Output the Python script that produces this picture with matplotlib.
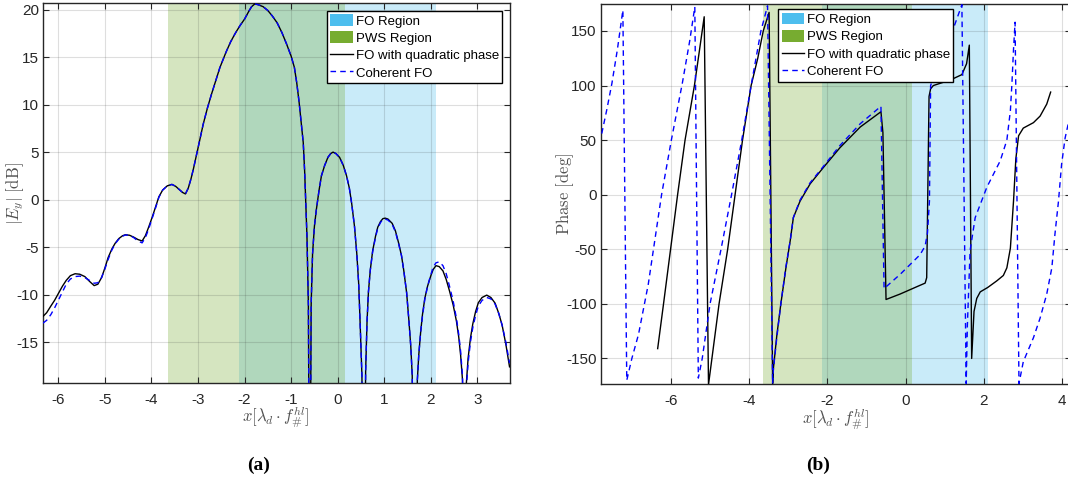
import matplotlib
matplotlib.use("Agg")
import matplotlib.pyplot as plt
from matplotlib.patches import Patch
from matplotlib.lines import Line2D

plt.rcParams["font.family"] = ["Liberation Sans", "DejaVu Sans"]
plt.rcParams["mathtext.fontset"] = "cm"
plt.rcParams["axes.unicode_minus"] = False

# ---- data -------------------------------------------------------------
fo_region = [-2.13, 2.12]
pws_region = [-3.65, 0.16]

mag_x = [-6.33, -6.25, -6.16, -6.08, -6.00, -5.91, -5.83, -5.74, -5.64, -5.54,
         -5.43, -5.33, -5.23, -5.15, -5.07, -5.00, -4.93, -4.85, -4.78, -4.70,
         -4.62, -4.56, -4.47, -4.38, -4.29, -4.20, -4.13, -4.06, -3.98, -3.90,
         -3.84, -3.76, -3.66, -3.56, -3.48, -3.40, -3.33, -3.27, -3.21, -3.15,
         -3.10, -3.05, -2.97, -2.89, -2.80, -2.71, -2.62, -2.53, -2.40, -2.30,
         -2.20, -2.10, -2.00, -1.90, -1.85, -1.78, -1.70, -1.60, -1.50, -1.40,
         -1.30, -1.20, -1.10, -1.00, -0.93, -0.88, -0.83, -0.78, -0.74, -0.71,
         -0.68, -0.66, -0.63, -0.60, -0.57, -0.54, -0.50, -0.46, -0.40, -0.35,
         -0.28, -0.21, -0.15, -0.10, -0.04, 0.04, 0.12, 0.19, 0.25, 0.30,
         0.36, 0.41, 0.45, 0.48, 0.52, 0.56, 0.60, 0.63, 0.66, 0.70,
         0.75, 0.81, 0.86, 0.92, 0.97, 1.02, 1.08, 1.17, 1.24, 1.31,
         1.37, 1.42, 1.48, 1.53, 1.57, 1.60, 1.66, 1.71, 1.74, 1.78,
         1.82, 1.87, 1.93, 2.00, 2.05, 2.11, 2.18, 2.26, 2.33, 2.40,
         2.48, 2.55, 2.60, 2.64, 2.68, 2.72, 2.76, 2.80, 2.85, 2.90,
         2.96, 3.02, 3.10, 3.20, 3.29, 3.38, 3.46, 3.53, 3.61, 3.69]

mag_fo_quad = [-12.3, -11.9, -11.2, -10.6, -9.9, -9.1, -8.5, -8.0, -7.8, -7.85,
               -8.1, -8.6, -9.05, -8.9, -8.2, -7.2, -6.1, -5.2, -4.6, -4.1,
               -3.8, -3.7, -3.75, -3.95, -4.2, -4.35, -3.8, -2.9, -1.8, -0.6,
               0.3, 1.0, 1.45, 1.6, 1.4, 1.05, 0.75, 0.6, 1.2, 2.2,
               3.2, 4.3, 6.1, 7.9, 9.6, 11.1, 12.5, 13.9, 15.5, 16.6,
               17.5, 18.3, 19.0, 19.9, 20.3, 20.6, 20.5, 20.3, 19.9, 19.3,
               18.6, 17.6, 16.4, 15.1, 13.9, 12.3, 10.3, 7.9, 6.0, 3.0,
               -1.2, -3.9, -11.0, -40.0, -11.0, -5.7, -2.8, -1.1, 1.0, 2.5,
               3.6, 4.45, 4.85, 5.0, 4.85, 4.45, 3.6, 2.5, 1.2, -0.4,
               -2.8, -5.7, -8.8, -12.8, -18.5, -40.0, -18.0, -12.8, -9.7, -7.4,
               -5.4, -3.9, -2.9, -2.3, -2.0, -1.95, -2.05, -2.5, -3.3, -4.6,
               -5.9, -7.5, -9.8, -12.8, -15.5, -18.5, -40.0, -19.0, -16.4, -14.0,
               -12.1, -10.4, -9.1, -8.0, -7.35, -6.95, -7.05, -7.5, -8.4, -9.6,
               -11.1, -12.8, -14.5, -16.4, -19.0, -40.0, -19.5, -16.7, -14.6, -13.1,
               -11.8, -10.85, -10.3, -10.05, -10.3, -10.9, -12.0, -13.2, -15.2, -17.6]

mag_coherent = [-13.0, -12.7, -12.1, -11.4, -10.6, -9.7, -8.9, -8.35, -8.1, -8.05,
                -8.2, -8.5, -8.8, -8.75, -8.2, -7.3, -6.3, -5.3, -4.65, -4.15,
                -3.85, -3.72, -3.75, -4.0, -4.35, -4.55, -4.0, -3.1, -1.9, -0.7,
                0.25, 1.0, 1.45, 1.6, 1.4, 1.05, 0.75, 0.6, 1.2, 2.2,
                3.2, 4.3, 6.1, 7.9, 9.6, 11.1, 12.5, 13.9, 15.5, 16.6,
                17.5, 18.3, 19.0, 19.9, 20.3, 20.6, 20.5, 20.3, 19.9, 19.3,
                18.6, 17.6, 16.4, 15.1, 13.9, 12.3, 10.3, 7.9, 6.0, 3.0,
                -1.2, -3.9, -11.0, -40.0, -11.0, -5.7, -2.8, -1.1, 1.0, 2.5,
                3.6, 4.45, 4.85, 5.0, 4.85, 4.45, 3.6, 2.5, 1.2, -0.4,
                -2.8, -5.7, -8.8, -12.8, -18.5, -40.0, -18.0, -12.8, -9.7, -7.4,
                -5.5, -4.0, -3.0, -2.4, -2.1, -2.05, -2.15, -2.6, -3.4, -4.7,
                -5.9, -7.5, -9.8, -12.8, -15.5, -18.5, -40.0, -19.0, -16.4, -14.0,
                -12.3, -10.5, -9.1, -7.9, -7.1, -6.65, -6.55, -6.95, -7.8, -9.1,
                -10.7, -12.5, -14.2, -16.0, -18.6, -40.0, -20.0, -17.2, -15.0, -13.5,
                -12.2, -11.2, -10.6, -10.3, -10.45, -11.0, -12.0, -13.2, -15.0, -17.2]

phase_quad_x = [-6.34, -6.19, -6.01, -5.83, -5.64, -5.40, -5.28, -5.15,
                -5.04, -4.77, -4.55, -4.36, -4.17, -3.95, -3.78, -3.64, -3.49,
                -3.40, -3.38, -3.29, -3.19, -3.06, -2.95, -2.87, -2.70, -2.44, -2.10, -1.68, -1.16, -0.63,
                -0.58, -0.50, -0.14, 0.37, 0.50, 0.54, 0.60, 0.64, 0.71, 1.14, 1.44, 1.56, 1.63,
                1.69, 1.75, 1.82, 1.91, 2.10, 2.33, 2.50, 2.59, 2.68, 2.76, 2.82, 2.89, 3.01, 3.27, 3.44, 3.61, 3.71]
phase_quad = [-141, -100, -50, 0, 50, 100, 130, 163,
              -174, -100, -50, 0, 50, 100, 125, 150, 167,
              -173, -159, -128, -100, -67, -42, -21, -6, 10, 25, 43, 62, 76,
              57, -96, -91, -83, -81, -76, 90, 97, 100, 105, 110, 120, 137,
              -150, -107, -95, -89, -85, -79, -74, -67, -49, -6, 33, 54, 61, 66, 72, 83, 94]

phase_coh_x = [-7.77, -7.64, -7.51, -7.37, -7.23,
               -7.13, -7.00, -6.83, -6.58, -6.24, -5.99, -5.71, -5.52, -5.39,
               -5.30, -5.20, -5.00, -4.72, -4.45, -4.19, -3.95, -3.70, -3.53,
               -3.40, -3.38, -3.29, -3.19, -3.06, -2.95, -2.87, -2.70, -2.44, -2.10, -1.68, -1.16, -0.63,
               -0.55, -0.14, 0.37, 0.50, 0.56, 0.61, 0.64, 0.90, 1.15, 1.31, 1.44,
               1.55, 1.58, 1.65, 1.78, 2.08, 2.42, 2.59, 2.68, 2.72, 2.76, 2.80,
               2.90, 3.01, 3.27, 3.44, 3.61, 3.74, 3.82, 3.91, 3.99, 4.08, 4.16, 4.24]
phase_coh = [56, 78, 102, 133, 169,
             -170, -150, -128, -82, 0, 50, 102, 141, 172,
             -168, -150, -100, -50, 0, 50, 100, 150, 173,
             -173, -160, -130, -100, -66, -42, -21, -5, 11, 26, 45, 65, 81,
             -86, -73, -55, -47, -35, -6, 100, 125, 145, 161, 174,
             -173, -120, -51, -21, 7, 31, 50, 77, 102, 133, 158,
             -173, -153, -131, -113, -91, -67, -36, -6, 28, 52, 65, 76]

mag_xticks = [-6, -5, -4, -3, -2, -1, 0, 1, 2, 3]
mag_yticks = [-15, -10, -5, 0, 5, 10, 15, 20]
phase_xticks = [-6, -4, -2, 0, 2, 4]
phase_yticks = [-150, -100, -50, 0, 50, 100, 150]

legend_labels = ["FO Region", "PWS Region", "FO with quadratic phase", "Coherent FO"]

# ---- style --------------------------------------------------------------
FO_COLOR = "#4DBEEE"
PWS_COLOR = "#77AC30"
AX_COLOR = "#262626"
LABEL_COLOR = "#505050"

fig = plt.figure(figsize=(10.68, 4.86), dpi=100)
ax1 = fig.add_axes([0.0402, 0.2119, 0.4369, 0.7811])
ax2 = fig.add_axes([0.5627, 0.2099, 0.4401, 0.7819])


def style_axes(ax, xticks, yticks):
    ax.axvspan(*fo_region, color=FO_COLOR, alpha=0.3, lw=0, zorder=0.1)
    ax.axvspan(*pws_region, color=PWS_COLOR, alpha=0.3, lw=0, zorder=0.2)
    ax.set_xticks(xticks)
    ax.set_yticks(yticks)
    ax.set_axisbelow(True)
    ax.grid(True, color=AX_COLOR, alpha=0.15, lw=0.8)
    ax.tick_params(direction="in", top=True, right=True, length=4, width=0.8,
                   colors=AX_COLOR, labelsize=11, labelcolor=AX_COLOR)
    ax.tick_params(axis="x", pad=7)
    ax.tick_params(axis="y", pad=3)
    for sp in ax.spines.values():
        sp.set_color(AX_COLOR)
        sp.set_linewidth(1.0)


def add_legend(ax, **kw):
    handles = [Patch(facecolor=FO_COLOR, edgecolor="none"),
               Patch(facecolor=PWS_COLOR, edgecolor="none"),
               Line2D([], [], color="black", lw=1.0),
               Line2D([], [], color="#0000FF", lw=1.0, ls=(0, (4, 3)))]
    leg = ax.legend(handles, legend_labels, fontsize=9.5, fancybox=False,
                    framealpha=1, edgecolor="black", borderaxespad=0,
                    borderpad=0.25, labelspacing=0.3, handlelength=1.7,
                    handleheight=1.0, handletextpad=0.2, **kw)
    leg.get_frame().set_linewidth(1.0)
    leg.set_zorder(5)
    return leg


# ---- (a) magnitude --------------------------------------------------------
style_axes(ax1, mag_xticks, mag_yticks)
ax1.plot(mag_x, mag_fo_quad, color="black", lw=1.0, zorder=3)
ax1.plot(mag_x, mag_coherent, color="#0000FF", lw=1.0, ls=(0, (4, 3)), zorder=3.1)
ax1.set_xlim(-6.33, 3.69)
ax1.set_ylim(-19.3, 20.65)
ax1.set_xlabel(r"$x[\lambda_d \cdot f_{\#}^{hl}]$", fontsize=12, color=LABEL_COLOR)
ax1.set_ylabel(r"$|E_y|\;[\mathrm{dB}]$", fontsize=12, color=LABEL_COLOR)
ax1.xaxis.set_label_coords(0.5, -0.091)
ax1.xaxis.label.set_va("center")
ax1.yaxis.set_label_coords(-0.06, 0.5)
ax1.yaxis.label.set_va("center")
add_legend(ax1, loc="upper right", bbox_to_anchor=(0.984, 0.9805))

# ---- (b) phase ------------------------------------------------------------
style_axes(ax2, phase_xticks, phase_yticks)
ax2.plot(phase_quad_x, phase_quad, color="black", lw=1.0, zorder=3)
ax2.plot(phase_coh_x, phase_coh, color="#0000FF", lw=1.0, ls=(0, (4, 3)), zorder=3.1)
ax2.set_xlim(-7.79, 4.23)
ax2.set_ylim(-173.4, 174.7)
ax2.set_xlabel(r"$x[\lambda_d \cdot f_{\#}^{hl}]$", fontsize=12, color=LABEL_COLOR)
ax2.set_ylabel(r"$\mathrm{Phase\ [deg]}$", fontsize=12, color=LABEL_COLOR)
ax2.xaxis.set_label_coords(0.5, -0.092)
ax2.xaxis.label.set_va("center")
ax2.yaxis.set_label_coords(-0.077, 0.5)
ax2.yaxis.label.set_va("center")
add_legend(ax2, loc="upper left", bbox_to_anchor=(0.3774, 0.9858))

# ---- captions ---------------------------------------------------------------
fig.text(259 / 1068, 1 - 465 / 486, "(a)", ha="center", va="center",
         fontsize=14, fontweight="bold", family="Liberation Serif")
fig.text(818 / 1068, 1 - 465 / 486, "(b)", ha="center", va="center",
         fontsize=14, fontweight="bold", family="Liberation Serif")

fig.savefig("out.png", dpi=100)
